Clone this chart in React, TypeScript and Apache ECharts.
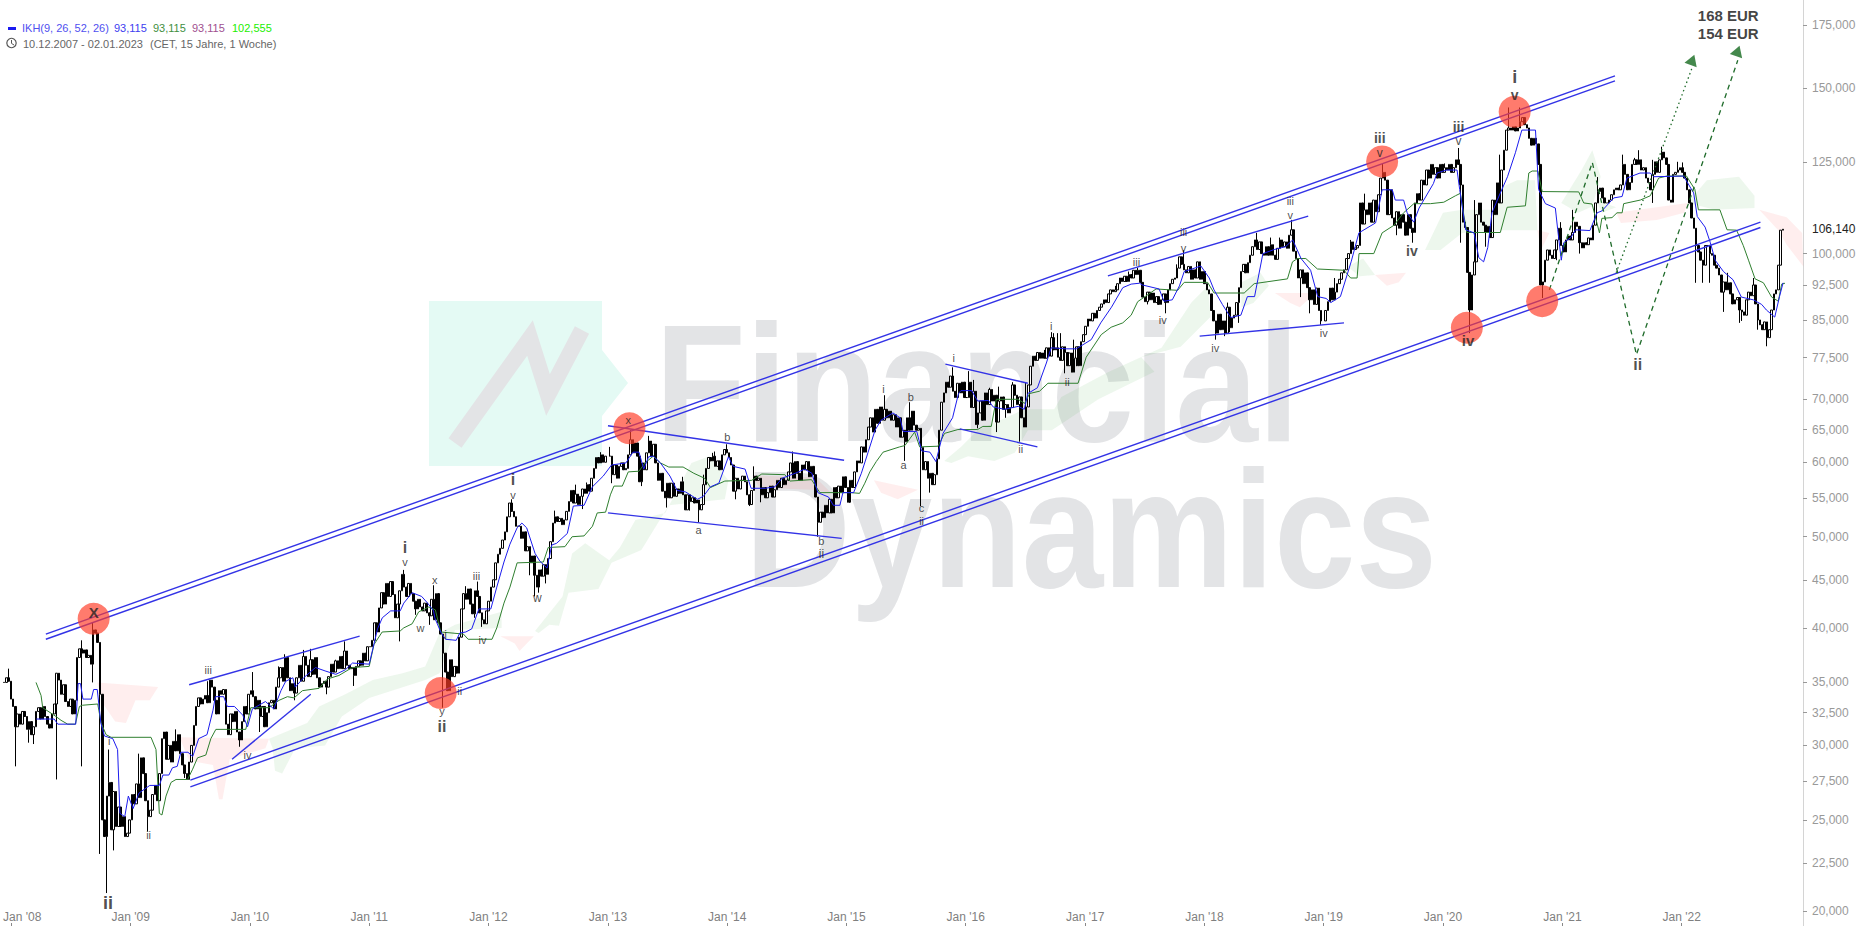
import React, { useEffect, useRef } from "react";
import * as echarts from "echarts";

const closes2008 = [
  35.0,35.4,35.1,33.6,33.0,31.4,32.4,31.6,32.6,32.2,31.2,31.8,30.8,
  31.4,32.6,32.9,32.0,33.0,32.2,31.6,31.3,32.4,33.2,35.8,35.2,34.0,
  34.8,33.4,33.0,33.6,32.4,33.5,37.2,38.0,37.6,37.9,37.2,37.4,36.6,
  39.8,39.5,38.6,34.0,25.0,24.0,26.5,27.4,24.4,26.8,24.6,25.8,24.6,25.2,24.0,24.2,25.0];
const closes2009 = [
  26.6,26.0,27.3,26.4,29.1,28.0,26.2,25.2,25.6,26.6,27.2,26.2,28.0,
  30.5,31.0,29.0,30.0,28.8,30.3,29.6,30.8,29.4,28.6,28.0,27.6,28.8,
  30.0,31.5,33.0,33.7,33.2,33.6,33.9,33.3,35.2,34.6,33.5,32.4,34.3,
  34.0,34.4,31.6,30.8,32.4,31.8,32.6,31.0,30.4,31.8,33.0,32.4,34.0];
const closes2010 = [
  34.3,33.8,32.8,33.5,32.2,33.0,31.4,32.5,33.3,33.5,32.8,34.6,35.4,
  36.3,35.1,37.2,35.4,34.3,34.9,34.1,35.4,36.5,35.1,37.3,36.5,35.5,
  37.0,35.7,37.2,35.4,34.6,34.9,35.1,34.6,35.5,36.6,35.9,36.9,36.2,
  37.3,36.2,37.8,36.5,36.2,36.3,35.6,36.4,36.9,36.5,37.6,36.9,38.2];
const closes2011 = [
  38.2,38.8,40.5,39.6,42.0,43.6,42.4,44.6,43.2,44.8,43.4,41.0,42.4,
  43.8,45.6,44.2,43.2,44.6,43.5,42.7,41.9,42.9,42.1,41.7,42.5,41.5,
  41.2,42.9,40.8,43.5,40.5,39.4,37.6,35.9,34.3,37.0,35.5,36.4,35.8,
  39.1,41.9,43.5,42.9,44.0,42.4,41.4,43.8,43.2,41.5,40.8,40.4,41.7];
const closes2012 = [
  42.7,44.2,45.0,46.9,47.9,48.6,49.6,50.6,52.5,54.3,53.2,52.5,51.3,
  51.3,49.8,50.6,48.3,48.8,46.9,47.7,45.5,44.2,46.1,45.4,46.7,45.6,
  47.4,49.4,51.7,52.5,51.9,52.3,51.5,52.1,53.2,54.5,56.0,54.3,55.5,
  54.1,55.2,56.2,55.6,56.8,55.9,57.7,59.1,60.7,59.9,61.1,60.0,60.9];
const closes2013 = [
  60.9,58.2,59.6,57.7,59.4,59.9,58.9,59.1,61.1,63.4,61.4,62.9,60.9,
  57.2,59.9,58.9,61.4,63.2,60.9,62.7,59.9,57.4,58.4,55.9,55.0,57.0,
  55.0,57.0,55.2,56.2,55.6,57.2,55.4,53.4,55.4,54.5,55.0,54.3,54.7,
  53.4,54.1,56.8,59.1,60.7,60.2,60.9,59.4,60.2,58.9,61.1,61.9,61.4];
const closes2014 = [
  60.7,59.6,55.9,57.7,56.2,57.4,58.0,57.2,55.4,54.1,56.0,58.0,57.4,
  57.7,55.4,56.4,55.0,55.7,56.6,55.1,56.1,57.4,56.4,57.7,56.8,57.4,
  58.6,59.9,57.7,60.1,58.4,57.4,59.6,58.9,60.1,57.9,59.4,58.2,55.1,
  51.8,53.1,52.4,54.0,53.0,54.8,53.0,56.4,55.0,56.6,55.7,57.9,56.4];
const closes2015 = [
  54.4,57.4,56.4,58.6,60.2,59.9,62.3,61.5,63.4,65.4,66.9,64.6,68.3,
  66.0,68.7,66.5,68.3,66.9,68.0,66.5,67.4,65.4,66.9,63.8,64.9,63.1,
  66.9,64.9,68.0,65.7,64.9,65.2,62.2,58.9,60.1,57.7,58.4,56.8,58.2,
  60.5,64.9,69.5,71.1,73.0,72.1,74.1,71.4,70.3,72.8,71.1,73.0,70.3];
const closes2016 = [
  70.3,73.0,68.6,71.4,65.8,67.7,69.7,66.5,71.1,69.1,71.7,69.7,70.7,
  66.2,69.7,70.4,68.3,69.1,67.7,68.6,72.5,70.7,69.1,70.4,66.9,65.4,
  68.7,72.5,75.9,77.8,77.0,78.5,77.4,78.4,77.4,79.4,77.8,81.4,79.0,
  79.4,77.6,77.0,79.6,78.5,76.0,78.4,74.8,77.4,79.6,76.0,80.6,82.0];
const closes2017 = [
  83.7,85.2,84.8,86.4,85.4,87.0,87.7,88.4,89.3,88.7,90.6,91.5,91.1,
  91.5,92.9,94.2,93.4,94.6,93.4,95.0,94.2,96.0,95.0,96.0,93.2,89.9,
  88.9,91.0,89.3,90.8,88.7,90.0,88.3,89.3,90.6,88.7,91.5,92.9,93.9,
  94.2,96.5,99.2,97.4,96.1,95.4,96.9,93.9,96.1,94.2,98.0,93.9,95.7];
const closes2018 = [
  92.9,91.5,90.6,87.0,84.8,82.3,86.2,83.0,84.8,82.3,87.7,83.4,85.4,
  86.0,88.7,92.0,95.7,97.4,95.4,97.8,99.6,101.7,103.4,101.0,102.9,100.0,
  99.6,101.7,99.6,102.2,99.6,98.6,101.3,103.4,101.7,102.9,101.3,104.6,106.0,
  100.6,98.8,94.2,96.1,92.9,95.4,92.0,89.3,91.5,88.3,91.9,87.0,84.8];
const closes2019 = [
  87.0,88.9,91.9,89.3,91.0,92.9,93.9,95.4,96.1,98.8,100.0,102.9,101.0,
  101.4,102.0,113.2,107.5,111.3,110.0,113.2,108.0,114.0,110.8,115.5,120.3,122.0,
  119.7,110.0,116.9,109.1,107.2,110.8,106.4,110.0,108.0,104.6,110.0,106.4,105.3,
  113.2,115.8,114.0,119.7,118.3,122.7,120.3,124.4,121.4,123.4,120.3,124.4,122.0];
const closes2020 = [
  123.4,122.7,124.4,122.0,123.4,125.8,124.4,118.3,108.0,106.6,95.5,87.1,94.9,
  98.0,110.0,113.2,108.0,107.2,105.3,106.9,104.0,114.0,110.0,118.9,113.2,122.7,
  128.8,135.3,136.0,135.3,136.4,135.0,136.0,138.1,139.5,137.1,136.0,132.6,130.4,
  132.6,130.8,124.4,92.6,93.3,98.4,100.9,99.6,98.8,100.9,103.4,106.4,102.0];
const closes2021 = [
  100.4,103.4,104.4,103.4,105.3,108.0,106.9,102.7,101.4,102.7,102.2,103.9,103.4,
  107.2,113.2,116.4,117.4,114.6,113.2,113.2,114.0,115.5,116.9,117.4,116.9,118.3,
  124.4,121.4,116.9,119.0,124.4,125.8,124.4,125.8,122.7,123.4,120.3,119.0,116.9,
  121.4,125.2,122.0,125.8,128.2,126.4,124.4,114.0,113.4,121.4,122.0,122.7,123.4];
const closes2022 = [
  122.0,120.3,116.9,113.2,109.1,106.4,102.0,100.4,98.4,97.2,102.0,102.0,100.0,
  99.6,97.2,96.5,94.9,91.0,93.3,91.5,93.1,90.6,88.4,89.3,89.8,87.1,
  86.7,86.0,89.3,91.0,90.2,92.6,88.4,85.0,84.0,83.0,84.6,81.4,83.0,
  87.1,90.6,91.5,97.2,105.9,106.14];

const yearStarts = ["2007-12-10","2009-01-05","2010-01-04","2011-01-03","2012-01-02","2013-01-07","2014-01-06","2015-01-05","2016-01-04","2017-01-02","2018-01-01","2019-01-07","2020-01-06","2021-01-04","2022-01-03"];
const yearCloses = [closes2008,closes2009,closes2010,closes2011,closes2012,closes2013,closes2014,closes2015,closes2016,closes2017,closes2018,closes2019,closes2020,closes2021,closes2022];

const wickLows = [[2008.04,28.5],[2008.15,30.2],[2008.19,30.1],[2008.38,27.6],[2008.59,28.5],[2008.68,35],[2008.75,23],[2008.80,20.9],[2008.86,23.2],[2009.15,24.3],[2009.46,27.7],[2009.92,29.9],[2010.09,31],[2010.38,33.5],[2010.64,34],[2010.88,34.7],[2011.26,38.7],[2011.39,41.3],[2011.51,40.3],[2011.61,32.9],[2011.88,41],[2011.95,40.1],[2012.34,45.5],[2012.39,43.2],[2012.42,43.6],[2012.49,44.6],[2012.79,53.5],[2013.04,57],[2013.29,56.6],[2013.5,53.7],[2013.68,53.3],[2013.76,51.8],[2014.08,54.8],[2014.18,53.9],[2014.29,54.4],[2014.77,50],[2015.03,54.3],[2015.49,60.2],[2015.63,53.9],[2015.71,55.7],[2016.10,65.2],[2016.26,64.6],[2016.34,66.9],[2016.45,63.1],[2016.84,74.6],[2016.91,76],[2016.93,75.9],[2017.52,88.3],[2017.67,86.4],[2018.09,81],[2018.17,81.7],[2018.21,82.5],[2018.28,84.4],[2018.81,89.9],[2018.88,86.4],[2018.98,84],[2019.42,108.6],[2019.62,104.6],[2019.74,102.7],[2020.146,102.7],[2020.22,82.3],[2020.355,101.7],[2020.83,89.7],[2020.955,98.4],[2021.14,100],[2021.54,116.9],[2021.76,113.2],[2021.90,113.7],[2022.13,93.1],[2022.17,93.1],[2022.23,93.1],[2022.36,86.7],[2022.49,84.4],[2022.5,84.8],[2022.64,83],[2022.66,84.5],[2022.72,79.7]];
const wickHighs = [[2007.98,36.2],[2008.39,35.7],[2008.59,38.8],[2008.69,40.5],[2008.82,29.7],[2009.07,29.4],[2009.28,31],[2009.38,31.2],[2009.65,35.1],[2010.02,35.9],[2010.24,36.4],[2010.30,37.5],[2010.45,37.9],[2010.5,38],[2010.72,37],[2010.8,38.7],[2011.16,44.3],[2011.29,46.1],[2011.55,44.4],[2011.81,44.3],[2011.9,44.8],[2012.2,54.8],[2012.56,53.3],[2012.72,56.8],[2012.83,57.1],[2012.94,61.5],[2013.0,62.3],[2013.18,64.9],[2013.34,64],[2013.63,57.9],[2013.80,58.2],[2013.87,61.4],[2013.9,61.6],[2014.0,62.7],[2014.22,59.4],[2014.55,61.6],[2015.31,70.7],[2015.53,69.5],[2015.9,75.7],[2016.02,75],[2016.06,73.4],[2016.2,72],[2016.28,72.2],[2016.395,73],[2016.5,73],[2016.66,79],[2016.73,82.3],[2016.78,82.3],[2016.71,82.5],[2016.80,82.3],[2016.91,81],[2017.245,92.4],[2017.37,95.7],[2017.45,96.6],[2017.775,97.4],[2017.83,100.8],[2017.97,98],[2018.19,88.7],[2018.44,105.2],[2018.56,104],[2018.64,104],[2018.72,108.6],[2019.1,94.2],[2019.225,103.4],[2019.35,115.8],[2019.5,124.7],[2020.01,124.7],[2020.12,129.5],[2020.27,114],[2020.48,127.4],[2020.55,143],[2020.65,143],[2020.98,108],[2021.09,111.3],[2021.3,120.6],[2021.51,127.4],[2021.6,126.4],[2021.65,128.8],[2021.76,125.8],[2021.84,129.9],[2021.96,125.2],[2022.0,125],[2022.39,95.4],[2022.6,94.2]];

const blueLine = [[2008.21,32],[2008.36,32],[2008.39,31.6],[2008.54,31.6],[2008.56,34.9],[2008.58,34.9],[2008.60,33.6],[2008.67,33.6],[2008.69,34.4],[2008.72,34.4],[2008.75,31.7],[2008.78,30.7],[2008.85,30.5],[2008.89,29.7],[2008.91,25.4],[2008.95,25.2],[2008.98,26.5],[2009.02,25.7],[2009.07,26.7],[2009.16,27.2],[2009.24,27.2],[2009.27,27.9],[2009.32,27.9],[2009.35,28.4],[2009.39,28.5],[2009.42,29.5],[2009.48,29.5],[2009.52,29.2],[2009.57,30.5],[2009.64,30.8],[2009.69,32.7],[2009.71,33.8],[2009.78,33.8],[2009.81,33],[2009.87,33],[2009.94,32.3],[2009.98,31.4],[2010.02,32.8],[2010.13,33.4],[2010.20,32.8],[2010.26,34.3],[2010.30,35.1],[2010.36,35.4],[2010.38,34.6],[2010.45,35.4],[2010.55,36.3],[2010.63,36],[2010.72,35.7],[2010.80,36.1],[2010.86,36.7],[2011.0,36.6],[2011.07,39.9],[2011.11,41],[2011.18,41.7],[2011.26,41.7],[2011.29,42.5],[2011.36,43.6],[2011.44,43.2],[2011.49,42.5],[2011.54,41.7],[2011.55,41],[2011.60,39.6],[2011.64,38.9],[2011.73,38.8],[2011.76,39.5],[2011.81,39.6],[2011.86,39.9],[2011.92,41.9],[2012.02,41.9],[2012.07,44.2],[2012.13,47],[2012.18,49.1],[2012.24,51.1],[2012.28,51.7],[2012.32,51.1],[2012.39,48],[2012.43,47.1],[2012.49,46.3],[2012.53,49],[2012.57,49.2],[2012.66,50.4],[2012.71,53.9],[2012.80,54],[2012.87,56.5],[2012.96,58],[2013.03,59.6],[2013.15,59.9],[2013.21,61.5],[2013.26,61.5],[2013.30,59],[2013.34,60.8],[2013.38,60.9],[2013.44,59.9],[2013.52,58],[2013.58,56],[2013.65,55.8],[2013.75,54.8],[2013.80,55.2],[2013.86,56.5],[2013.93,57],[2014.01,60.8],[2014.05,59.4],[2014.15,59],[2014.20,56.3],[2014.32,56.3],[2014.40,56.5],[2014.46,57.7],[2014.57,58.4],[2014.65,59],[2014.71,58.4],[2014.76,55.7],[2014.85,55.1],[2014.89,54],[2014.945,54],[2014.97,55.7],[2015.06,55.7],[2015.125,58.4],[2015.18,61.4],[2015.24,64.9],[2015.29,66.5],[2015.39,67.7],[2015.45,66.9],[2015.475,64.7],[2015.59,64.7],[2015.63,61.7],[2015.70,61.5],[2015.75,60.1],[2015.81,64.4],[2015.89,66.9],[2015.94,71],[2015.96,71.5],[2016.05,71.5],[2016.10,69.7],[2016.19,69.8],[2016.23,68.7],[2016.325,68.3],[2016.44,68.8],[2016.49,68.3],[2016.52,71],[2016.60,72],[2016.675,76.5],[2016.715,79.4],[2016.84,79.2],[2016.925,79.2],[2017.05,81],[2017.13,84.4],[2017.22,87.7],[2017.315,92],[2017.385,92.8],[2017.455,93],[2017.48,92.6],[2017.62,91.7],[2017.66,89],[2017.73,89.3],[2017.79,92.4],[2017.83,95.7],[2017.97,97],[2018.04,94.2],[2018.08,91.5],[2018.15,88.3],[2018.22,85.5],[2018.305,86],[2018.36,90],[2018.42,90],[2018.49,100],[2018.585,101],[2018.68,101.7],[2018.74,103.4],[2018.81,98.8],[2018.89,96],[2018.95,90],[2019.02,89.6],[2019.06,88.7],[2019.14,90],[2019.23,98],[2019.295,105.2],[2019.435,107.8],[2019.49,116.9],[2019.575,116.9],[2019.60,114],[2019.67,114],[2019.70,110.5],[2019.755,108],[2019.80,111.8],[2019.92,118.7],[2019.95,121.8],[2020.03,122.7],[2020.118,122.7],[2020.14,117],[2020.19,106],[2020.26,105.2],[2020.30,99],[2020.34,98],[2020.375,101.5],[2020.41,110.5],[2020.48,116],[2020.54,120.7],[2020.606,128],[2020.66,135.3],[2020.774,135.3],[2020.80,117],[2020.857,113],[2020.94,111.8],[2020.96,106],[2020.99,98.4],[2021.01,102.7],[2021.07,104],[2021.11,106],[2021.23,105.8],[2021.29,110.5],[2021.33,111],[2021.43,114.6],[2021.50,115],[2021.54,120.3],[2021.65,121.8],[2021.736,121.8],[2021.764,120.7],[2022.015,120.9],[2022.10,116],[2022.13,109.5],[2022.196,106.7],[2022.24,102.7],[2022.28,98.4],[2022.35,95.7],[2022.43,93.8],[2022.50,89.9],[2022.60,89.3],[2022.67,88.3],[2022.71,87.1],[2022.78,85.6],[2022.82,90],[2022.85,93.1]];

const greenLine = [[2008.208,35],[2008.25,33.9],[2008.264,32.9],[2008.375,32.2],[2008.417,31.9],[2008.473,31.6],[2008.537,31.6],[2008.571,33],[2008.598,33.1],[2008.724,33.2],[2008.752,31.7],[2008.794,30.8],[2008.836,30.6],[2009.17,30.6],[2009.212,29.7],[2009.24,25.4],[2009.262,25.3],[2009.296,26.5],[2009.338,27.4],[2009.38,27.6],[2009.477,27.6],[2009.519,28.3],[2009.56,29.1],[2009.63,29.3],[2009.672,30.5],[2009.714,31.2],[2009.965,31.2],[2010.007,32.9],[2010.16,32.9],[2010.244,33.5],[2010.314,33.8],[2010.37,33.7],[2010.44,34.3],[2010.58,34.5],[2010.65,35.3],[2010.746,35.6],[2010.858,36.3],[2011.0,36.4],[2011.04,38.4],[2011.109,39.6],[2011.26,39.7],[2011.29,40],[2011.36,40.4],[2011.415,41.6],[2011.50,42.1],[2011.555,41.8],[2011.60,39.6],[2011.79,39.4],[2011.83,38.9],[2012.03,38.9],[2012.07,40],[2012.13,42.5],[2012.18,44.2],[2012.24,46.9],[2012.46,47],[2012.50,48.7],[2012.64,48.8],[2012.70,50],[2012.80,50.1],[2012.87,51.3],[2012.91,53],[2012.98,53.1],[2013.02,55.4],[2013.05,56.6],[2013.12,56.6],[2013.17,58.6],[2013.26,58.7],[2013.31,59.9],[2013.38,60.9],[2013.44,59.9],[2013.51,59.3],[2013.63,59.3],[2013.72,58.4],[2013.81,57.7],[2013.86,56.4],[2013.98,57.3],[2014.205,57.4],[2014.29,58.3],[2014.484,58.2],[2014.526,57.3],[2014.707,57.5],[2014.777,55.7],[2015.04,55.7],[2015.11,55.6],[2015.154,57],[2015.196,58.6],[2015.25,60.1],[2015.307,61.5],[2015.446,62.3],[2015.49,62.5],[2015.572,64.6],[2015.614,62.3],[2015.767,62.4],[2015.823,64.4],[2015.935,65],[2016.10,65],[2016.144,65.5],[2016.214,65.5],[2016.256,70],[2016.437,70],[2016.493,69.3],[2016.535,71],[2016.618,71.4],[2016.688,72.8],[2016.94,72.8],[2017.008,77.6],[2017.134,82],[2017.217,83.5],[2017.315,84.4],[2017.385,86],[2017.44,88.9],[2017.594,91.7],[2017.775,91.4],[2017.83,93.2],[2018.026,93.2],[2018.08,90.8],[2018.333,90.8],[2018.417,92.9],[2018.696,94],[2018.738,98],[2018.78,98.8],[2018.85,98.8],[2018.947,96.3],[2019.17,96],[2019.226,94.2],[2019.28,94.2],[2019.296,100],[2019.42,100],[2019.49,105.2],[2019.59,107.2],[2019.67,110.5],[2019.756,113],[2019.895,113],[2020.007,113.4],[2020.104,115.2],[2020.146,115.9],[2020.174,110],[2020.20,105.3],[2020.48,105.3],[2020.537,112],[2020.69,112.4],[2020.718,121.8],[2020.746,122.4],[2020.794,122.4],[2020.83,116.4],[2021.136,116.3],[2021.178,113.2],[2021.248,112.9],[2021.31,105.2],[2021.33,109],[2021.415,109.2],[2021.457,110.5],[2021.50,110.5],[2021.513,113],[2021.652,114],[2021.736,115.2],[2021.806,120.3],[2021.875,120.9],[2022.04,120.9],[2022.11,117],[2022.14,111.3],[2022.32,111.3],[2022.38,106],[2022.46,105.9],[2022.516,102],[2022.56,98.4],[2022.615,94],[2022.685,93.1],[2022.754,89.9],[2022.81,89],[2022.838,92.8],[2022.866,93]];

const cloudGreen = [
  [[2010.16,30.5],[2010.48,31.7],[2010.58,33],[2010.80,34],[2011.03,35.2],[2011.28,35.8],[2011.47,36.4],[2011.59,39.5],[2011.72,40.3],[2012.11,41.6],[2012.11,40],[2011.72,39.8],[2011.59,35.8],[2011.47,35.2],[2011.0,33.7],[2010.77,32.2],[2010.63,30],[2010.38,29.8],[2010.27,28],[2010.21,28.2],[2010.19,29.8]],
  [[2012.39,39.7],[2012.62,43.2],[2012.70,48],[2012.81,49.2],[2013.01,47.2],[2013.10,48.7],[2013.23,52.1],[2013.48,53],[2013.70,59.9],[2013.85,60.9],[2014.01,57.4],[2013.98,54.8],[2013.51,54],[2013.28,48.4],[2013.03,46.9],[2012.92,44],[2012.67,43.6],[2012.59,40.2],[2012.51,40.3],[2012.42,39.5]],
  [[2015.82,60.2],[2015.96,62.3],[2016.10,64.9],[2016.49,68.3],[2016.74,68.3],[2016.80,70.4],[2017.19,74.8],[2017.64,79.4],[2017.89,88.7],[2018.03,92.4],[2018.05,85.6],[2017.80,79.6],[2017.47,77.6],[2017.58,74.9],[2017.11,70],[2016.72,64.9],[2016.52,64.9],[2016.41,61.4],[2016.24,60.2],[2016.02,60.9],[2015.88,59.9]],
  [[2018.31,93.2],[2018.47,95.4],[2018.54,92.4],[2018.41,88.6],[2018.31,87.7]],
  [[2019.20,96.9],[2019.33,98.8],[2019.43,94.9],[2019.30,94.6]],
  [[2019.85,100.9],[2020.0,110.5],[2020.16,111.3],[2020.43,111.3],[2020.49,117.6],[2020.62,119.7],[2020.77,119.7],[2020.79,105.9],[2020.49,105.9],[2020.16,105.2],[2019.98,100.9]],
  [[2020.99,113.2],[2021.16,122.7],[2021.25,128.8],[2021.32,120.7],[2021.25,112.2],[2021.13,110.5]],
  [[2021.28,114],[2021.45,112],[2021.33,110.5]],
  [[2022.05,113.2],[2022.21,119.7],[2022.48,120.7],[2022.61,115.2],[2022.61,111.8],[2022.28,111.3]],
];
const cloudRed = [
  [[2008.72,35],[2009.23,34.6],[2009.16,33.5],[2009.04,33.5],[2008.96,31.7],[2008.87,31.8],[2008.77,33.2]],
  [[2009.41,30.6],[2010.16,30.5],[2010.13,29.8],[2009.83,29],[2009.77,26.3],[2009.74,26.3],[2009.69,28.6],[2009.49,28.9]],
  [[2012.10,39.2],[2012.38,39.2],[2012.26,37.8],[2012.22,38.5]],
  [[2014.21,58.1],[2014.74,57.8],[2014.87,55.7],[2014.71,56.1],[2014.27,56.4]],
  [[2015.23,57.4],[2015.60,56.1],[2015.43,54.8],[2015.29,55.7]],
  [[2018.59,90.8],[2018.93,90.8],[2018.80,87.7],[2018.72,88.6]],
  [[2019.43,94.9],[2019.69,95.4],[2019.63,93.2],[2019.53,92.4]],
  [[2020.79,105.9],[2020.89,105.2],[2020.82,100.9]],
  [[2021.45,110.5],[2022.05,113.2],[2022.02,110.5],[2021.79,108.6],[2021.49,107.8]],
  [[2022.65,111.3],[2022.88,109.3],[2023.01,105.2],[2023.02,96.9],[2022.88,102.2],[2022.81,105.9]],
];

const trendLines = [
  [[2008.29,39.4],[2021.44,154.5]],
  [[2008.29,38.9],[2021.44,152.6]],
  [[2009.50,27.56],[2022.66,108]],
  [[2009.50,27.1],[2022.66,106.6]],
  [[2009.49,34.8],[2010.92,39.2]],
  [[2009.85,29],[2010.51,34]],
  [[2013.0,65.6],[2014.98,60.3]],
  [[2013.0,53],[2014.96,49.8]],
  [[2015.83,76.3],[2016.52,72.8]],
  [[2015.95,65.1],[2016.60,62.3]],
  [[2017.19,94.7],[2018.87,109.6]],
  [[2017.96,81.7],[2019.17,84.4]],
];
const dashedPath = [[2020.89,91.5],[2021.25,125],[2021.62,78.1],[2022.47,160.5]];
const dottedPath = [[2021.45,95.4],[2022.09,158]];
const arrowHeads = [[2022.09,160.7,-20],[2022.47,164.2,-19]];
const circles = [[2008.69,40.9],[2011.60,34.1],[2013.18,65.2],[2019.49,125.3],[2020.60,141.5],[2020.20,83.4],[2020.83,89]];

const waveLabels = [
  [2008.69,41.5,"X",15],[2008.81,20.4,"ii",18],[2008.82,30.3,"i",11],[2009.15,24.1,"ii",11],[2009.65,36.1,"iii",11],[2009.98,29.3,"iv",11],
  [2011.30,48.7,"i",16],[2011.30,47,"v",11],[2011.55,45,"x",11],[2011.43,40,"w",11],[2011.90,45.4,"iii",11],[2011.64,39.3,"i",12],[2011.95,38.8,"iv",11],
  [2011.61,32.6,"y",11],[2011.61,31.4,"ii",16],[2011.76,34.3,"ii",11],[2012.205,57.5,"i",16],[2012.205,55.4,"v",11],[2012.41,43,"w",12],
  [2013.76,50.8,"a",11],[2014.0,63.8,"b",11],[2013.17,66.5,"x",11],[2014.79,49.5,"b",11],[2014.79,47.9,"ii",12],[2015.31,71.8,"i",11],[2015.54,70.4,"b",11],
  [2015.48,59.6,"a",11],[2015.63,53.7,"c",11],[2015.63,52,"ii",11],[2015.90,77.4,"i",11],[2016.46,62,"ii",11],[2016.85,73,"ii",11],[2016.715,83.8,"i",11],
  [2017.43,97.9,"iii",11],[2017.825,105.3,"iii",11],[2017.825,101.5,"v",11],[2017.65,85,"iv",11],[2018.09,79.4,"iv",11],[2018.72,113.7,"iii",11],[2018.72,110,"v",11],
  [2019.0,82.3,"iv",11],[2019.74,100.6,"iv",14],[2019.47,132.6,"iii",14],[2019.47,128,"v",12],[2020.13,136.3,"iii",14],[2020.13,131.8,"v",12],
  [2020.60,154,"i",18],[2020.60,147.6,"v",14],[2020.21,80.8,"iv",15],[2021.63,76.3,"ii",16],
];
const targetLabels = [[2022.39,178.9,"168 EUR"],[2022.39,171.6,"154 EUR"]];

const yTicks = [20,22.5,25,27.5,30,32.5,35,40,45,50,55,60,65,70,77.5,85,92.5,100,125,150,175];
const lastPrice = 106.14;
const xTickYears = [2008,2009,2010,2011,2012,2013,2014,2015,2016,2017,2018,2019,2020,2021,2022];
const xTickLabels = ["Jan '08","Jan '09","Jan '10","Jan '11","Jan '12","Jan '13","Jan '14","Jan '15","Jan '16","Jan '17","Jan '18","Jan '19","Jan '20","Jan '21","Jan '22"];

const FONT = "Liberation Sans";
const WEEK = 7 * 864e5;
const toTime = (yr: number) => {
  const y = Math.floor(yr);
  const a = Date.UTC(y, 0, 1), b = Date.UTC(y + 1, 0, 1);
  return a + (yr - y) * (b - a);
};
const asTimed = (pts: number[][]) => pts.map(([t, p]) => [toTime(t), p]);
const fmtPrice = (v: number) => v.toFixed(3).replace(".", ",");

function buildCandles() {
  const bars: number[][] = [];
  let prev = yearCloses[0][0];
  yearCloses.forEach((cl, yi) => {
    const t0 = Date.parse(yearStarts[yi] + "T00:00:00Z");
    cl.forEach((c, i) => {
      bars.push([t0 + i * WEEK, prev, c, Math.min(prev, c), Math.max(prev, c)]);
      prev = c;
    });
  });
  const nearest = (t: number) => {
    let best = 0, d = Infinity;
    bars.forEach((b, i) => { const q = Math.abs(b[0] - t); if (q < d) { d = q; best = i; } });
    return best;
  };
  wickLows.forEach(([yr, p]) => { const b = bars[nearest(toTime(yr))]; b[3] = Math.min(b[3], p); });
  wickHighs.forEach(([yr, p]) => { const b = bars[nearest(toTime(yr))]; b[4] = Math.max(b[4], p); });
  return bars;
}

const lineSeries = (pts: number[][], color: string, width: number, z: number, type: any = "solid") => ({
  type: "line", data: asTimed(pts), showSymbol: false, symbol: "none", silent: true, z, animation: false,
  lineStyle: { color, width, type },
});

const cloudSeries = (polys: number[][][], fill: string) => ({
  type: "custom", silent: true, z: 1, clip: true,
  data: polys.map((p) => [toTime(p[0][0]), p[0][1]]),
  encode: { x: 0, y: 1 },
  renderItem: (params: any, api: any) => ({
    type: "polygon",
    shape: { points: polys[params.dataIndex].map(([yr, p]) => api.coord([toTime(yr), p])) },
    style: { fill },
  }),
});

export default function App() {
  const ref = useRef<HTMLDivElement>(null);
  useEffect(() => {
    document.body.style.margin = "0";
    document.body.style.overflow = "hidden";
    const chart = echarts.init(ref.current!, undefined, { renderer: "svg" });
    const candles = buildCandles();
    const grey = "#e3e4e6";
    const hdr = (x: number, y: number, text: string, fill: string) => ({
      type: "text", x, y, z: 100,
      style: { text, fill, fontFamily: FONT, fontSize: 11, verticalAlign: "middle", align: "left" },
    });
    chart.setOption({
      animation: false,
      backgroundColor: "#fff",
      grid: { left: 0, right: 58, top: 0, bottom: 0 },
      xAxis: {
        type: "value",
        min: toTime(2007.929), max: toTime(2023.017),
        splitLine: { show: false },
        axisLine: { show: false },
        axisTick: { show: true, inside: true, length: 3, lineStyle: { color: "#888" }, customValues: xTickYears.map((y) => toTime(y)) },
        axisLabel: {
          inside: true, margin: 3, color: "#808080", fontFamily: FONT, fontSize: 12, hideOverlap: false,
          customValues: xTickYears.map((y) => toTime(y)),
          formatter: (v: number) => {
            const i = xTickYears.indexOf(new Date(v + 864e5).getUTCFullYear());
            return i === 0 ? `{first|${xTickLabels[i]}}` : xTickLabels[i];
          },
          rich: { first: { padding: [0, 0, 0, 22], color: "#808080", fontFamily: FONT, fontSize: 12 } },
        },
      },
      yAxis: {
        type: "log", logBase: 10, position: "right",
        min: 19.28, max: 186.04,
        splitLine: { show: false }, minorTick: { show: false }, minorSplitLine: { show: false },
        axisLine: { show: true, lineStyle: { color: "#d4d4d4" } },
        axisTick: { show: true, length: 4, lineStyle: { color: "#999" }, customValues: yTicks },
        axisLabel: {
          margin: 9, color: "#999", fontFamily: FONT, fontSize: 12, align: "left", hideOverlap: false,
          customValues: [...yTicks, lastPrice],
          formatter: (v: number) => (Math.abs(v - lastPrice) < 1e-6 ? `{last|${fmtPrice(v)}}` : fmtPrice(v)),
          rich: { last: { color: "#222", fontFamily: FONT, fontSize: 12 } },
        },
      },
      graphic: [
        { type: "polygon", z: -10, shape: { points: [[429,301],[602,301],[602,350],[628,383],[602,416],[602,466],[429,466]] }, style: { fill: "#e4faf4" } },
        { type: "polyline", z: -9, shape: { points: [[455,443],[530,338],[548,395],[582,330]] }, style: { stroke: grey, lineWidth: 16, fill: "none" } },
        { type: "text", z: -9, x: 655, y: 383, scaleX: 0.89, style: { text: "Financial", fill: grey, fontFamily: FONT, fontWeight: "bold", fontSize: 167, verticalAlign: "middle", align: "left" } },
        { type: "text", z: -9, x: 745, y: 529, scaleX: 0.877, style: { text: "Dynamics", fill: grey, fontFamily: FONT, fontWeight: "bold", fontSize: 167, verticalAlign: "middle", align: "left" } },
        { type: "rect", z: 100, shape: { x: 8, y: 27, width: 8, height: 3 }, style: { fill: "#1a1af0" } },
        hdr(22, 28, "IKH(9, 26, 52, 26)", "#5050f0"),
        hdr(114, 28, "93,115", "#4040f0"),
        hdr(153, 28, "93,115", "#3f8f3f"),
        hdr(192, 28, "93,115", "#a0508f"),
        hdr(232, 28, "102,555", "#22ee00"),
        { type: "circle", z: 100, shape: { cx: 11.5, cy: 43, r: 4.7 }, style: { fill: "none", stroke: "#555", lineWidth: 1.2 } },
        { type: "polyline", z: 100, shape: { points: [[11.5,40],[11.5,43.4],[14,45]] }, style: { fill: "none", stroke: "#555", lineWidth: 1 } },
        hdr(23, 43.5, "10.12.2007 - 02.01.2023", "#666"),
        hdr(150, 43.5, "(CET, 15 Jahre, 1 Woche)", "#666"),
      ],
      series: [
        cloudSeries(cloudGreen, "rgba(50,170,50,0.09)"),
        cloudSeries(cloudRed, "rgba(255,40,40,0.08)"),
        {
          type: "candlestick", layout: "horizontal", data: candles.map((b) => b), z: 2, silent: true, barWidth: 2, large: false, progressive: 0,
          itemStyle: { color: "#ffffff", color0: "#000000", borderColor: "#000000", borderColor0: "#000000", borderWidth: 1 },
        },
        lineSeries(greenLine, "#2f7f2f", 1, 3),
        lineSeries(blueLine, "#1c1cee", 1, 3),
        ...trendLines.map((l) => lineSeries(l, "#3333e6", 1.4, 4)),
        lineSeries(dashedPath, "#1f6b2a", 1.3, 4, [5, 4]),
        lineSeries(dottedPath, "#1f6b2a", 1.3, 4, [1.5, 3]),
        {
          type: "scatter", silent: true, z: 4, symbol: "triangle",
          data: arrowHeads.map(([yr, p, rot]) => ({ value: [toTime(yr), p], symbolRotate: rot })),
          symbolSize: [13, 11], itemStyle: { color: "#156a1f" },
        },
        {
          type: "scatter", silent: true, z: 5, symbol: "circle", symbolSize: 32,
          data: asTimed(circles), itemStyle: { color: "#ff3c28", opacity: 0.68 },
        },
        {
          type: "scatter", silent: true, z: 6, symbolSize: 1, itemStyle: { color: "rgba(0,0,0,0)" },
          data: waveLabels.map(([yr, p, text, size]: any) => ({
            value: [toTime(yr), p, text],
            label: { show: true, position: "inside", formatter: text, fontSize: size, fontWeight: size >= 14 ? "bold" : "normal", fontFamily: FONT, color: "#222" },
          })),
        },
        {
          type: "scatter", silent: true, z: 6, symbolSize: 1, itemStyle: { color: "rgba(0,0,0,0)" },
          data: targetLabels.map(([yr, p, text]: any) => ({
            value: [toTime(yr), p, text],
            label: { show: true, position: "inside", formatter: text, fontSize: 15, fontWeight: "bold", fontFamily: FONT, color: "#111" },
          })),
        },
      ],
    });
    return () => chart.dispose();
  }, []);
  return <div ref={ref} style={{ width: 1861, height: 926 }} />;
}
